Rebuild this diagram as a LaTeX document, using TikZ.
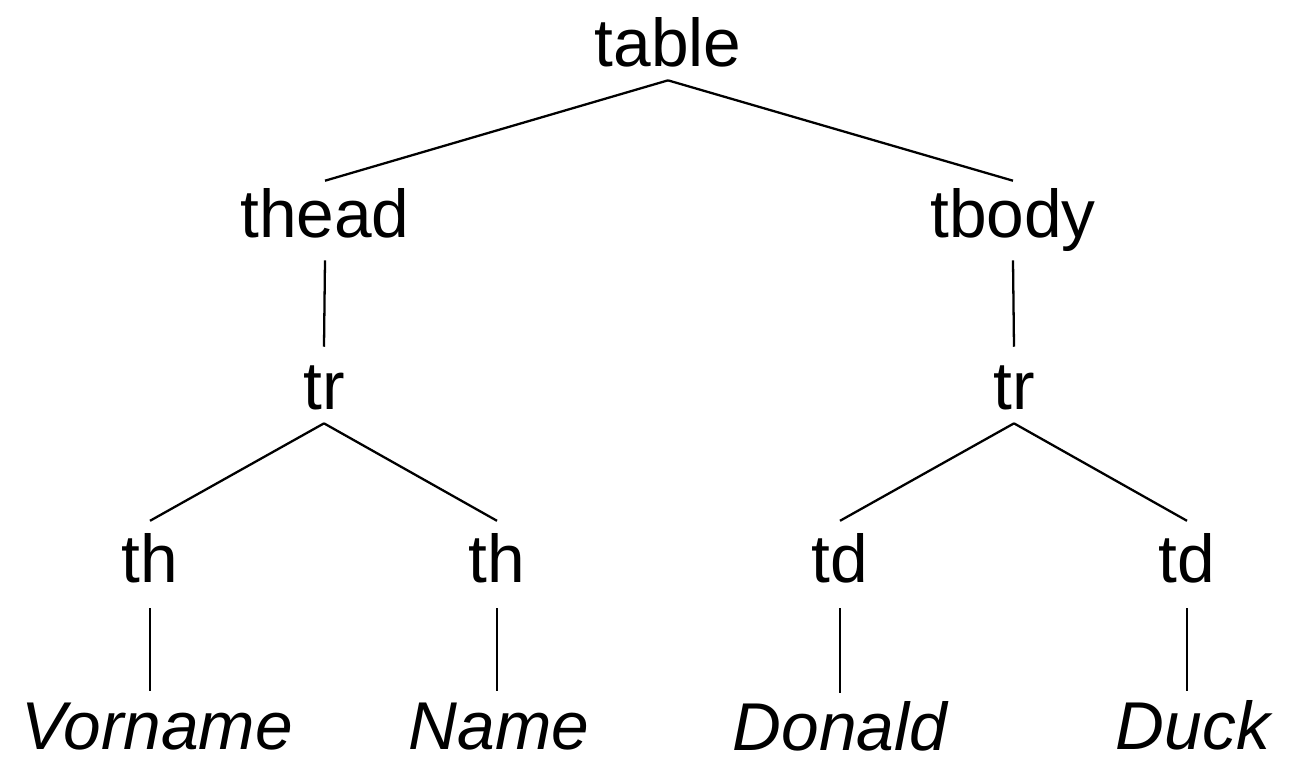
\documentclass[tikz,border=0pt]{standalone}
\usepackage{fontspec}
\setmainfont{Liberation Sans}
\usetikzlibrary{positioning}

\newcommand{\tagfont}{\fontsize{38.5}{44}\selectfont}
\tikzset{
  tag/.style={anchor=base, inner xsep=0pt, font=\tagfont, text height=28.4pt},
  % gap above the node, and extra gap below the baseline
  gaps/.style 2 args={inner ysep=#1, text depth=#2},
  leaf/.style={tag, font=\tagfont\itshape, text height=33pt, gaps={0pt}{0pt}},
  branch/.style={line width=1.3pt, black},
}

\begin{document}
\begin{tikzpicture}[x=0.02cm, y=-0.02cm]
        \useasboundingbox (0,0) rectangle (1303,763);
        \node[tag, gaps={2.3pt}{5.1pt}] (table) at (668,67) {table};
        \node[tag, gaps={4pt}{8.5pt}] (thead) at (325,238) {thead};
        \node[tag, gaps={4pt}{8.5pt}] (tbody) at (1013,238) {tbody};
        \node[tag, gaps={7.4pt}{0pt}] (trh) at (324,410) {tr};
        \node[tag, gaps={7.4pt}{0pt}] (trb) at (1014,410) {tr};
        \node[tag, gaps={6.8pt}{7.4pt}] (th1) at (150,583) {th};
        \node[tag, gaps={6.8pt}{7.4pt}] (th2) at (497,583) {th};
        \node[tag, gaps={6.8pt}{7.4pt}] (td1) at (840,583) {td};
        \node[tag, gaps={6.8pt}{7.4pt}] (td2) at (1187,583) {td};
        %---------------------------
        \node[leaf] (vorname) at (157,749) {Vorname};
        \node[leaf] (name) at (499,749) {Name};
        \node[leaf] (donald) at (840,751) {Donald};
        \node[leaf] (duck) at (1193,749) {Duck};
        %--------------------------
        \path[branch]
        (table.south) edge (thead.north)
        (table.south) edge (tbody.north)
        (thead.south) edge (trh.north)
        (tbody.south) edge (trb.north)
        (trh.south) edge (th1.north)
        (trh.south) edge (th2.north)
        (trb.south) edge (td1.north)
        (trb.south) edge (td2.north)
        (th1.south) edge (th1.south |- vorname.north)
        (th2.south) edge (th2.south |- name.north)
        (td1.south) edge (td1.south |- donald.north)
        (td2.south) edge (td2.south |- duck.north);
\end{tikzpicture}
\end{document}
